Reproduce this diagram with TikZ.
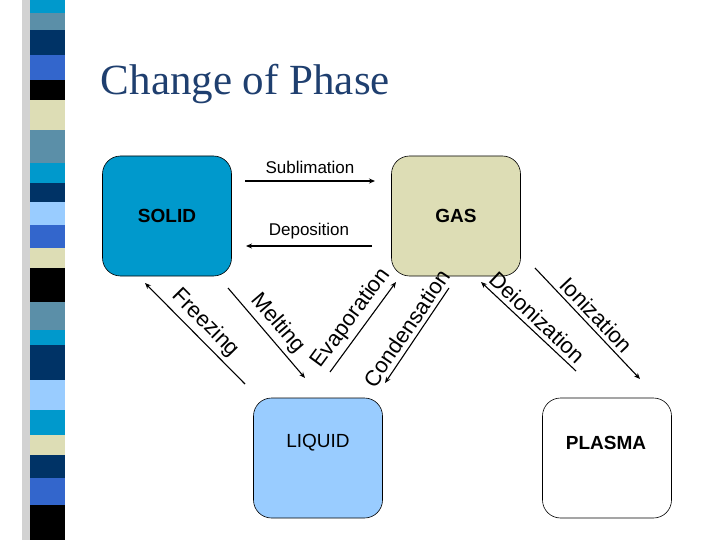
\documentclass[tikz,border=0pt]{standalone}
\usepackage{fontspec}
\setmainfont{Liberation Sans}
\newfontfamily\titlefont{Liberation Serif}
\usetikzlibrary{arrows.meta, positioning}
\definecolor{solidblue}{HTML}{0099CC}
\definecolor{gasbeige}{HTML}{DDDDB5}
\definecolor{liquidblue}{HTML}{99CCFF}
\definecolor{steel}{HTML}{5B8FA8}
\definecolor{navy}{HTML}{003366}
\definecolor{royal}{HTML}{3366CC}
\definecolor{titleblue}{HTML}{1F3F6F}
\begin{document}
\begin{tikzpicture}[x=1pt, y=-1pt, >={Stealth[length=6pt,width=5pt]},
  phase/.style={draw, rounded corners=18pt, minimum width=129pt, minimum height=120pt},
  tr/.style={font=\fontsize{17}{17}\selectfont, inner sep=1pt},
  dg/.style={font=\fontsize{22}{22}\selectfont, inner sep=1pt, midway, sloped, above=3pt},
  line width=1.1pt]
\useasboundingbox (0,0) rectangle (720,540);
% stripe
\fill[gray!35] (22,0) rectangle (30,540);
\foreach \a/\b/\c in {0/13/solidblue, 13/30/steel, 30/55/navy, 55/80/royal, 80/100/black,
  100/130/gasbeige, 130/163/steel, 163/183/solidblue, 183/202/navy, 202/225/liquidblue,
  225/248/royal, 248/268/gasbeige, 268/302/black, 302/330/steel, 330/345/solidblue,
  345/380/navy, 380/410/liquidblue, 410/435/solidblue, 435/455/gasbeige, 455/478/navy,
  478/505/royal, 505/540/black}
  \fill[\c] (30,\a) rectangle (65,\b);
\node[anchor=west, text=titleblue, font=\titlefont\fontsize{43}{43}\selectfont] (T) at (97,84) {Change of Phase};

\node[phase, fill=solidblue, line width=0.6pt] (S) at (167,216) {};
\node[phase, fill=gasbeige, line width=0.6pt] (G) at (456,216) {};
\node[phase, fill=liquidblue, line width=0.6pt] (L) at (318,458) {};
\node[phase, fill=white, line width=0.6pt] (P) at (607,458) {};
\node[font=\bfseries\fontsize{19}{19}\selectfont] at (167,216) {SOLID};
\node[font=\bfseries\fontsize{19}{19}\selectfont] at (456,216) {GAS};
\node[font=\fontsize{19}{19}\selectfont] at (318,443) {LIQUID};
\node[font=\bfseries\fontsize{19}{19}\selectfont] at (606,443) {PLASMA};

\coordinate (sub1) at (245,181); \coordinate (sub2) at (375,181);
\coordinate (dep1) at (372,246); \coordinate (dep2) at (246,246);
\coordinate (fr1) at (245,384); \coordinate (fr2) at (145,283);
\coordinate (me1) at (228,288); \coordinate (me2) at (305,378);
\coordinate (ev1) at (330,372); \coordinate (ev2) at (396,282);
\coordinate (co1) at (449,288); \coordinate (co2) at (385,383);
\coordinate (de1) at (576,371); \coordinate (de2) at (481,282);
\coordinate (io1) at (535,268); \coordinate (io2) at (640,379);

\draw[->] (sub1) -- (sub2) node[tr, midway, above=6pt] {Sublimation};
\draw[->] (dep1) -- (dep2) node[tr, midway, above=5pt] {Deposition};
\draw[->] (fr1) -- (fr2) node[dg] {Freezing};
\draw[->] (me1) -- (me2) node[dg] {Melting};
\draw[->] (ev1) -- (ev2) node[dg] {Evaporation};
\draw[->] (co1) -- (co2) node[dg] {Condensation};
\draw[->] (de1) -- (de2) node[dg] {Deionization};
\draw[->] (io1) -- (io2) node[dg] {Ionization};
\end{tikzpicture}
\end{document}
